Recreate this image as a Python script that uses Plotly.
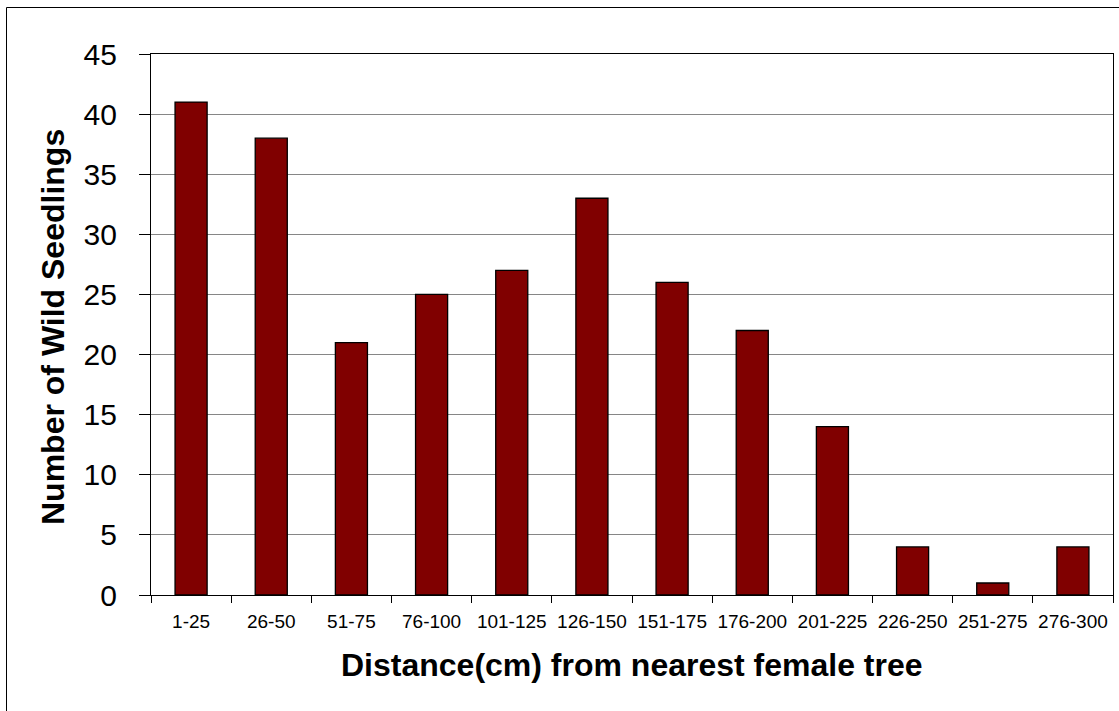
import plotly.graph_objects as go

categories = ["1-25", "26-50", "51-75", "76-100", "101-125", "126-150",
              "151-175", "176-200", "201-225", "226-250", "251-275", "276-300"]
seedlings = [41, 38, 21, 25, 27, 33, 26, 22, 14, 4, 1, 4]
y_ticks = [0, 5, 10, 15, 20, 25, 30, 35, 40, 45]

W, H = 1119, 711
L, R, T, B = 151, 6, 54, 116
pw, ph = W - L - R, H - T - B

def px_x(x):
    return (x - L) / pw

def px_y(y):
    return (H - B - y) / ph

fig = go.Figure(go.Bar(
    x=categories, y=seedlings,
    marker=dict(color="#800000", line=dict(color="black", width=1.3)),
    width=0.4,
))

fig.update_layout(
    width=W, height=H,
    margin=dict(l=L, r=R, t=T, b=B, pad=0),
    paper_bgcolor="white", plot_bgcolor="white",
    showlegend=False,
    font=dict(family="Liberation Sans, Arial, sans-serif", color="black"),
)

fig.update_xaxes(
    type="category",
    showline=True, linecolor="black", linewidth=1.3, mirror=True,
    ticks="outside", tickson="boundaries", ticklen=7, tickcolor="black", tickwidth=1,
    tickfont=dict(size=19, color="black"),
    ticklabelstandoff=9,
    showgrid=False,
)

fig.update_yaxes(
    range=[0, 45], tickvals=y_ticks,
    showline=True, linecolor="black", linewidth=1.3, mirror=True,
    ticks="outside", ticklen=11, tickcolor="black", tickwidth=1,
    tickfont=dict(size=30, color="black"),
    ticklabelstandoff=16,
    showgrid=True, gridcolor="#868686", gridwidth=1,
    zeroline=False,
)

fig.add_annotation(
    text="<b>Number of Wild Seedlings</b>", textangle=-90,
    xref="paper", yref="paper", x=px_x(53), y=px_y(327),
    xanchor="center", yanchor="middle", showarrow=False,
    font=dict(size=32, color="black"),
)
fig.add_annotation(
    text="<b>Distance(cm) from nearest female tree</b>",
    xref="paper", yref="paper", x=px_x(632), y=px_y(665),
    xanchor="center", yanchor="middle", showarrow=False,
    font=dict(size=32, color="black"),
)

fig.add_shape(
    type="rect", xref="paper", yref="paper",
    x0=px_x(6.5), x1=px_x(1140), y0=px_y(740), y1=px_y(7.5),
    line=dict(color="black", width=1), fillcolor="rgba(0,0,0,0)", layer="below",
)

fig.write_html(
    "out.html",
    config={"displayModeBar": False},
    post_script="document.body.style.margin='0';document.body.style.overflow='hidden';",
)
